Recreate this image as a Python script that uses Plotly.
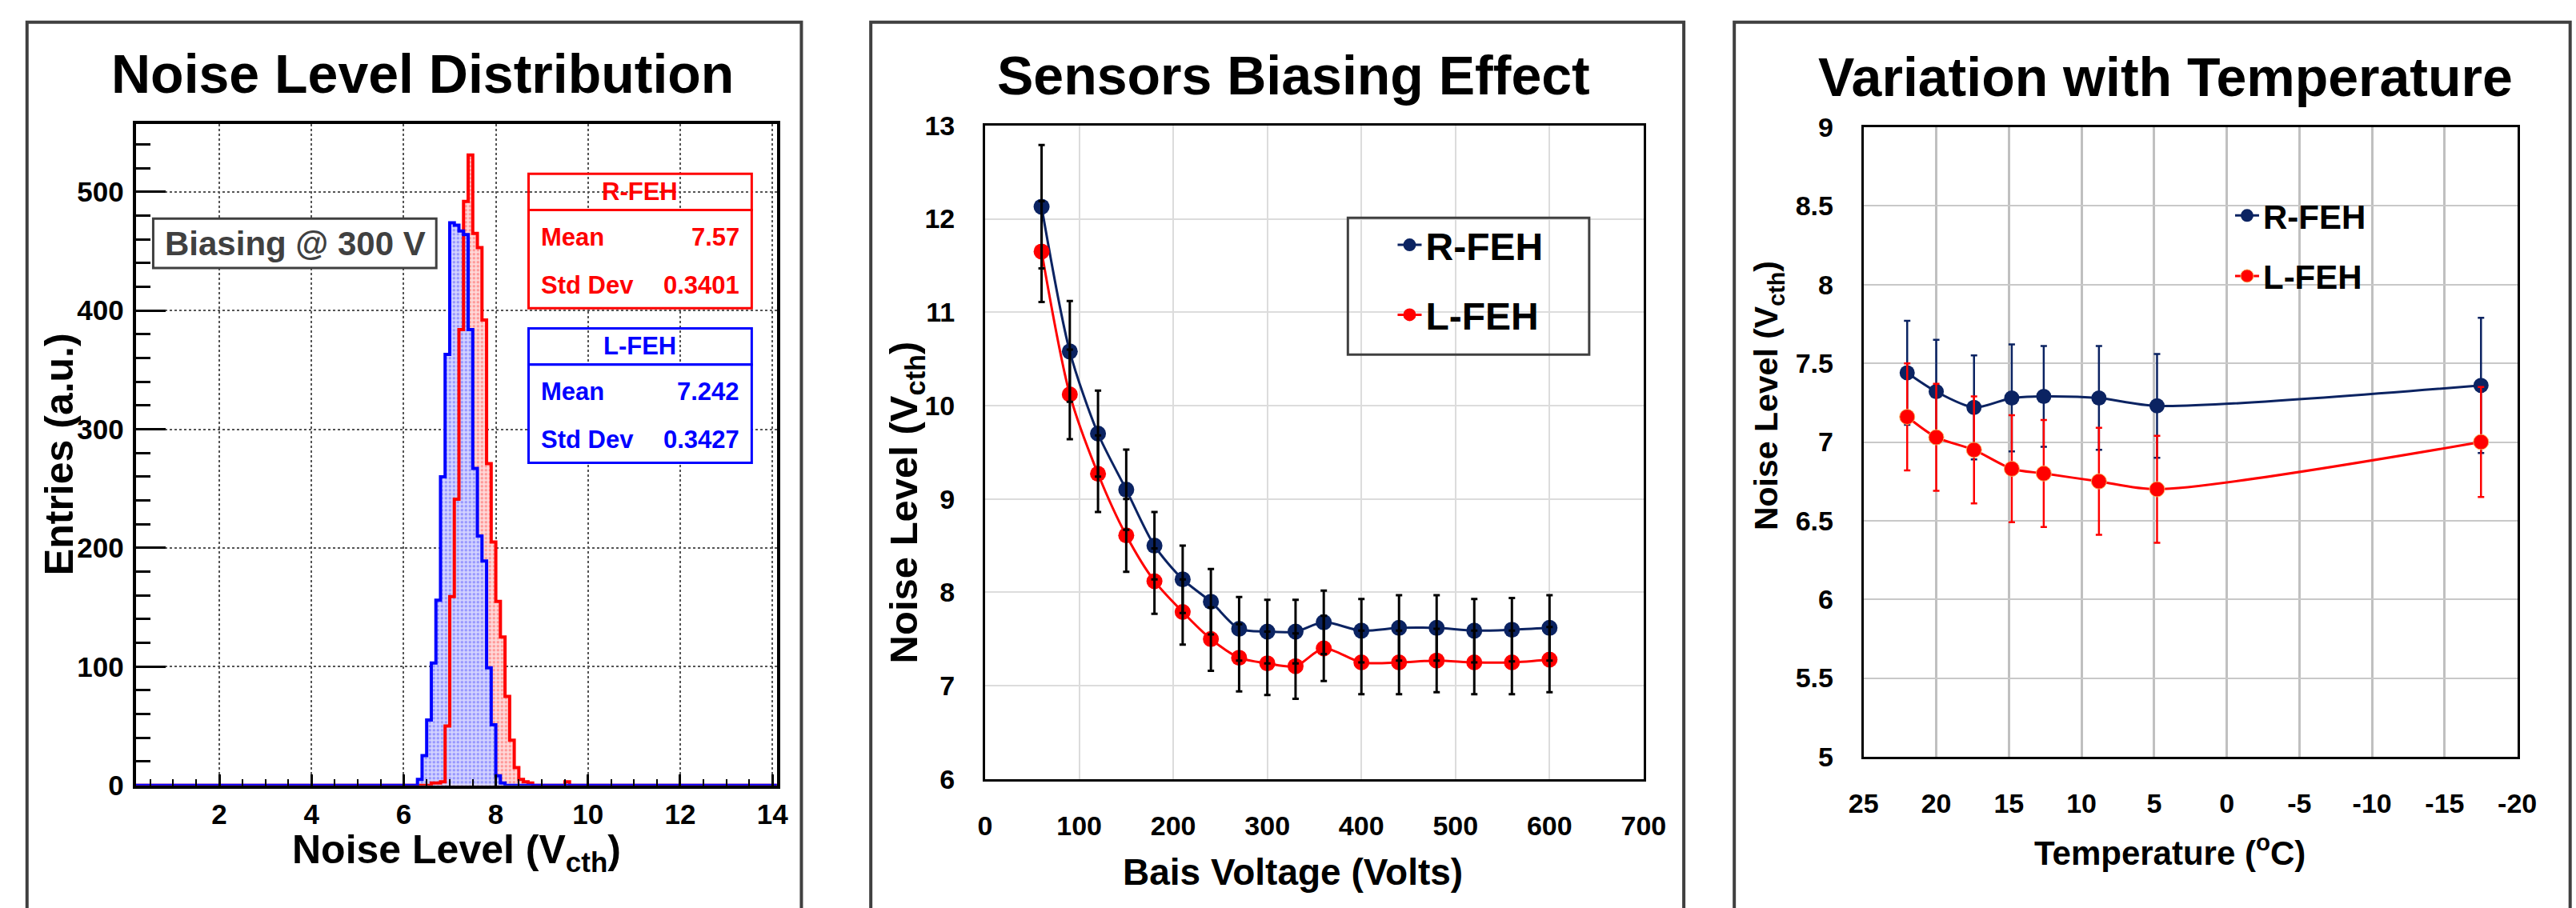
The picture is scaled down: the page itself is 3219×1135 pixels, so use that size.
import plotly.graph_objects as go

W, H = 3219, 1135
FONT = "Liberation Sans, Arial, Helvetica, sans-serif"
NAVY = "#0B2362"
RED = "#FF0000"


def px(x):
    return x / W


def py(y):
    return 1 - y / H


# ---------------- Panel 1: Noise level distribution (histograms) ----------------
BIN_W = 0.1
hist_xrange = [0.19, 14.1]
hist_yrange = [0, 557]

lfeh_bin_left = [6.3, 6.4, 6.5, 6.6, 6.7, 6.8, 6.9, 7.0, 7.1, 7.2, 7.3, 7.4, 7.5, 7.6,
                 7.7, 7.8, 7.9, 8.0, 8.1]
lfeh_counts = [5, 25, 55, 103, 156, 260, 363, 474, 472, 467, 464, 384, 267, 210,
               189, 99, 51, 8, 2]

rfeh_bin_left = [6.6, 6.7, 6.8, 6.9, 7.0, 7.1, 7.2, 7.3, 7.4, 7.5, 7.6, 7.7, 7.8, 7.9,
                 8.0, 8.1, 8.2, 8.3, 8.4, 8.5, 8.6, 8.7, 8.8, 8.9, 9.0, 9.1, 9.2, 9.3,
                 9.4, 9.5]
rfeh_counts = [2, 2, 3, 50, 159, 241, 384, 492, 531, 465, 453, 392, 271, 205,
               155, 125, 75, 38, 15, 5, 3, 2, 0, 0, 0, 0, 0, 0,
               0, 3]

stat_names = ["R-FEH", "L-FEH"]
stat_means = ["7.57", "7.242"]
stat_stddevs = ["0.3401", "0.3427"]
stat_colors = [RED, "#0000FF"]

# ---------------- Panel 2: Sensors biasing effect ----------------
bias_voltage = [60, 90, 120, 150, 180, 210, 240, 270, 300, 330, 360, 400, 440, 480, 520, 560, 600]
bias_rfeh = [12.13, 10.58, 9.70, 9.10, 8.50, 8.14, 7.90, 7.61, 7.58, 7.58, 7.68, 7.59, 7.62,
             7.62, 7.59, 7.60, 7.62]
bias_rfeh_err = [0.66, 0.54, 0.46, 0.43, 0.36, 0.36, 0.35, 0.34, 0.34, 0.34, 0.34, 0.34, 0.35,
                 0.35, 0.34, 0.34, 0.35]
bias_lfeh = [11.65, 10.12, 9.27, 8.61, 8.12, 7.79, 7.50, 7.30, 7.24, 7.21, 7.40, 7.25, 7.25,
             7.27, 7.25, 7.25, 7.28]
bias_lfeh_err = [0.54, 0.48, 0.41, 0.39, 0.35, 0.35, 0.34, 0.36, 0.34, 0.35, 0.35, 0.34, 0.34,
                 0.34, 0.34, 0.34, 0.35]

# ---------------- Panel 3: Variation with temperature ----------------
temperature = [22.0, 20.0, 17.4, 14.8, 12.6, 8.8, 4.8, -17.5]
temp_rfeh = [7.44, 7.32, 7.22, 7.28, 7.29, 7.28, 7.23, 7.36]
temp_rfeh_err = [0.33, 0.33, 0.33, 0.34, 0.32, 0.33, 0.33, 0.43]
temp_lfeh = [7.16, 7.03, 6.95, 6.83, 6.80, 6.75, 6.70, 7.00]
temp_lfeh_err = [0.34, 0.34, 0.34, 0.34, 0.34, 0.34, 0.34, 0.35]
temp_ticks = [25, 20, 15, 10, 5, 0, -5, -10, -15, -20]
temp_tick_labels = ["25", "20", "15", "10", "5", "0", "-5", "-10", "-15", "-20"]


def step_xy(left, counts, w, xr):
    xs = [xr[0]] + list(left) + [round(left[-1] + w, 3), xr[1]]
    ys = [0] + list(counts) + [0, 0]
    return xs, ys


fig = go.Figure()

rx, ry = step_xy(rfeh_bin_left, rfeh_counts, BIN_W, hist_xrange)
bx, by = step_xy(lfeh_bin_left, lfeh_counts, BIN_W, hist_xrange)

# fills
fig.add_trace(go.Scatter(x=rx, y=ry, mode="lines", line=dict(width=0, shape="hv"),
                         fill="tozeroy",
                         fillpattern=dict(shape=".", fgcolor="#FF5050", bgcolor="#FFD9D9",
                                          size=5, solidity=0.35),
                         showlegend=False, hoverinfo="skip", xaxis="x", yaxis="y"))
fig.add_trace(go.Scatter(x=bx, y=by, mode="lines", line=dict(width=0, shape="hv"),
                         fill="tozeroy",
                         fillpattern=dict(shape=".", fgcolor="#5050FF", bgcolor="#D4D4FF",
                                          size=5, solidity=0.35),
                         showlegend=False, hoverinfo="skip", xaxis="x", yaxis="y"))
# outlines
fig.add_trace(go.Scatter(x=rx, y=ry, mode="lines", line=dict(width=4, shape="hv", color=RED),
                         showlegend=False, xaxis="x", yaxis="y"))
fig.add_trace(go.Scatter(x=bx, y=by, mode="lines", line=dict(width=4, shape="hv", color="#0000FF"),
                         showlegend=False, xaxis="x", yaxis="y"))

# Panel 2 lines
fig.add_trace(go.Scatter(x=bias_voltage, y=bias_rfeh, mode="lines+markers", name="R-FEH",
                         line=dict(color=NAVY, width=3, shape="spline", smoothing=0.8),
                         marker=dict(color=NAVY, size=20),
                         legend="legend", legendgroup="r2", xaxis="x2", yaxis="y2"))
fig.add_trace(go.Scatter(x=bias_voltage, y=bias_lfeh, mode="lines+markers", name="L-FEH",
                         line=dict(color=RED, width=3, shape="spline", smoothing=0.8),
                         marker=dict(color=RED, size=20),
                         legend="legend", legendgroup="l2", xaxis="x2", yaxis="y2"))
# Panel 2 error bars (black, on top)
for yv, ev in [(bias_rfeh, bias_rfeh_err), (bias_lfeh, bias_lfeh_err)]:
    fig.add_trace(go.Scatter(x=bias_voltage, y=yv, mode="markers",
                             marker=dict(size=1, color="rgba(0,0,0,0)"),
                             error_y=dict(type="data", array=ev, visible=True, color="black",
                                          thickness=3, width=4),
                             showlegend=False, hoverinfo="skip", xaxis="x2", yaxis="y2"))

# Panel 3 lines
fig.add_trace(go.Scatter(x=temperature, y=temp_rfeh, mode="lines+markers", name="R-FEH",
                         line=dict(color=NAVY, width=3, shape="spline", smoothing=0.8),
                         marker=dict(color=NAVY, size=19),
                         error_y=dict(type="data", array=temp_rfeh_err, visible=True, color=NAVY,
                                      thickness=2.5, width=4),
                         legend="legend2", legendgroup="r3", xaxis="x3", yaxis="y3"))
fig.add_trace(go.Scatter(x=temperature, y=temp_lfeh, mode="lines+markers", name="L-FEH",
                         line=dict(color=RED, width=3, shape="spline", smoothing=0.8),
                         marker=dict(color=RED, size=19, line=dict(color="#F8B060", width=1)),
                         error_y=dict(type="data", array=temp_lfeh_err, visible=True, color=RED,
                                      thickness=2.5, width=4),
                         legend="legend2", legendgroup="l3", xaxis="x3", yaxis="y3"))


def tick_bold(s):
    return dict(family=FONT, size=s, color="black", weight="bold")


layout = dict(
    width=W, height=H, margin=dict(l=0, r=0, t=0, b=0),
    paper_bgcolor="white", plot_bgcolor="white",
    font=dict(family=FONT, color="black"),
    # Panel 1 axes
    xaxis=dict(domain=[px(153), px(966)], range=hist_xrange, anchor="y",
               dtick=2, tick0=0, ticks="inside", ticklen=14, tickwidth=3, tickcolor="black",
               minor=dict(dtick=0.5, ticks="inside", ticklen=8, tickwidth=2, tickcolor="black"),
               showline=True, linecolor="black", linewidth=4, mirror=True,
               showgrid=True, gridcolor="#555555", griddash="dot", gridwidth=2,
               zeroline=False, tickfont=tick_bold(35), ticklabelstandoff=2),
    yaxis=dict(domain=[py(996), py(141)], range=hist_yrange, anchor="x",
               dtick=100, ticks="inside", ticklen=37, tickwidth=3, tickcolor="black",
               minor=dict(dtick=20, ticks="inside", ticklen=18, tickwidth=3, tickcolor="black"),
               showline=True, linecolor="black", linewidth=4, mirror=True,
               showgrid=True, gridcolor="#555555", griddash="dot", gridwidth=2,
               zeroline=False, tickfont=tick_bold(35), ticklabelstandoff=4),
    # Panel 2 axes
    xaxis2=dict(domain=[px(1230), px(2065)], range=[0, 700], anchor="y2", dtick=100,
                ticks="", showline=True, linecolor="black", linewidth=3, mirror=True,
                showgrid=True, gridcolor="#DCDCDC", gridwidth=2, zeroline=False,
                tickfont=tick_bold(34), ticklabelstandoff=26),
    yaxis2=dict(domain=[py(988), py(142.6)], range=[6, 13], anchor="x2", dtick=1,
                ticks="", showline=True, linecolor="black", linewidth=3, mirror=True,
                showgrid=True, gridcolor="#DCDCDC", gridwidth=2, zeroline=False,
                tickfont=tick_bold(34), ticklabelstandoff=28),
    # Panel 3 axes
    xaxis3=dict(domain=[px(2344), px(3173)], range=[25, -20], anchor="y3",
                tickmode="array", tickvals=temp_ticks, ticktext=temp_tick_labels,
                ticks="", showline=True, linecolor="black", linewidth=3, mirror=True,
                showgrid=True, gridcolor="#C0C0C0", gridwidth=3, zeroline=False,
                tickfont=tick_bold(34), ticklabelstandoff=26),
    yaxis3=dict(domain=[py(959), py(145)], range=[5, 9], anchor="x3", dtick=0.5,
                ticks="", showline=True, linecolor="black", linewidth=3, mirror=True,
                showgrid=True, gridcolor="#C8C8C8", gridwidth=2, zeroline=False,
                tickfont=tick_bold(34), ticklabelstandoff=28),
    legend=dict(x=px(1748), y=py(258), xanchor="left", yanchor="top",
                bgcolor="rgba(0,0,0,0)", borderwidth=0,
                font=dict(family=FONT, size=48, color="black", weight="bold"),
                traceorder="grouped", tracegroupgap=22, itemwidth=30),
    legend2=dict(x=px(2810), y=py(224), xanchor="left", yanchor="top",
                 bgcolor="rgba(0,0,0,0)", borderwidth=0,
                 font=dict(family=FONT, size=42, color="black", weight="bold"),
                 traceorder="grouped", tracegroupgap=18, itemwidth=30),
)
fig.update_layout(**layout)

shapes = []
annotations = []


def rect(x0, y0, x1, y1, color, width, fill="rgba(0,0,0,0)"):
    shapes.append(dict(type="rect", xref="paper", yref="paper",
                       x0=px(x0), x1=px(x1), y0=py(y0), y1=py(y1),
                       line=dict(color=color, width=width), fillcolor=fill, layer="above"))


def text(x, y, s, size, color="black", xanchor="center", yanchor="middle", angle=0):
    annotations.append(dict(xref="paper", yref="paper", x=px(x), y=py(y), text=s,
                            showarrow=False, xanchor=xanchor, yanchor=yanchor,
                            textangle=angle,
                            font=dict(family=FONT, size=size, color=color, weight="bold")))


# panel frames
rect(15, 9, 997, 1160, "#404040", 4)
rect(1085, 9, 2116, 1160, "#404040", 4)
rect(2180, 9, 3240, 1160, "#404040", 4)

# titles
text(517, 76, "Noise Level Distribution", 68)
text(1621, 78, "Sensors Biasing Effect", 68)
text(2727, 80, "Variation with Temperature", 68)

# panel 1 axis titles
text(56, 568, "Entries (a.u.)", 50, angle=-90)
text(560, 1083, "Noise Level (V<sub>cth</sub>)", 50)

# biasing box
rect(175, 263, 534, 327, "#404040", 3, fill="white")
text(355, 295, "Biasing @ 300 V", 42, color="#404040")

# stat boxes
box_tops = [205, 405]
for i in range(2):
    t = box_tops[i]
    c = stat_colors[i]
    rect(651, t, 934, t + 47, c, 3)
    rect(651, t + 47, 934, t + 174, c, 3, fill="white")
    text(792, t + 23, stat_names[i], 31, color=c)
    text(665, t + 82, "Mean", 31, color=c, xanchor="left")
    text(920, t + 82, stat_means[i], 31, color=c, xanchor="right")
    text(665, t + 144, "Std Dev", 31, color=c, xanchor="left")
    text(920, t + 144, stat_stddevs[i], 31, color=c, xanchor="right")

# panel 2 axis titles & legend box
text(1130, 630, "Noise Level (V<sub>cth</sub>)", 49, angle=-90)
text(1620, 1108, "Bais Voltage (Volts)", 46)
rect(1690, 262, 1996, 439, "#404040", 3)

# panel 3 axis titles
text(2223, 492, "Noise Level (V<sub>cth</sub>)", 41, angle=-90)
text(2732, 1080, "Temperature (<sup>o</sup>C)", 42)

fig.update_layout(shapes=shapes, annotations=annotations)
fig.write_html("out.html", config={"displayModeBar": False},
               post_script="document.body.style.margin='0';document.body.style.overflow='hidden';")
